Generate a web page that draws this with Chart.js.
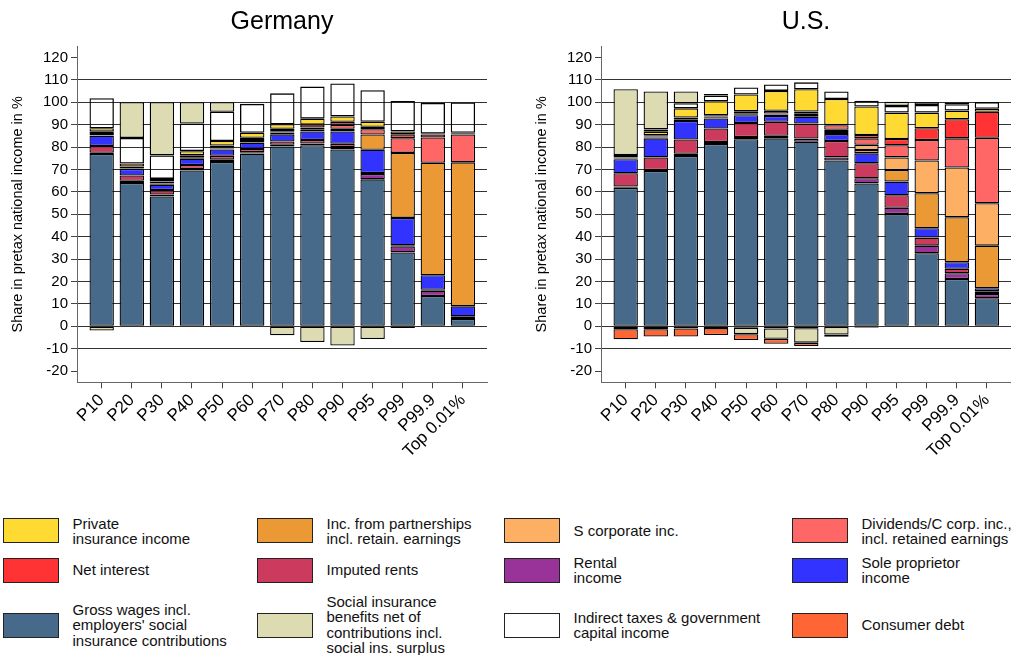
<!DOCTYPE html>
<html>
<head>
<meta charset="utf-8">
<script src="https://cdn.jsdelivr.net/npm/chart.js@4.4.1/dist/chart.umd.min.js"></script>
<style>
  html, body { margin: 0; padding: 0; background: #fff; }
  body { width: 1011px; height: 655px; position: relative; overflow: hidden; font-family: "Liberation Sans", Arial, sans-serif; }
  canvas { position: absolute; top: 0; }
  #deChart { left: 0; }
  #usChart { left: 524px; }
  .key { position: absolute; width: 56px; height: 25px; border: 1px solid #222; box-sizing: border-box; }
  .label { position: absolute; font-size: 15px; line-height: 15.3px; color: #111; white-space: pre; transform: translateY(-50%); }
</style>
</head>
<body>
<canvas id="deChart" width="505" height="500"></canvas>
<canvas id="usChart" width="487" height="500"></canvas>
<div id="legend"></div>
<script>
const FONT = '"Liberation Sans", Arial, sans-serif';

const categories = ['P10', 'P20', 'P30', 'P40', 'P50', 'P60', 'P70', 'P80', 'P90', 'P95', 'P99', 'P99.9', 'Top 0.01%'];
const yTicks = [-20, -10, 0, 10, 20, 30, 40, 50, 60, 70, 80, 90, 100, 110, 120];

// stacking order (bottom to top), negatives stack in the same order below zero
const seriesNames = [
  'Gross wages incl.\nemployers\' social\ninsurance contributions',
  'Rental\nincome',
  'Imputed rents',
  'Sole proprietor\nincome',
  'Inc. from partnerships\nincl. retain. earnings',
  'S corporate inc.',
  'Dividends/C corp. inc.,\nincl. retained earnings',
  'Net interest',
  'Private\ninsurance income',
  'Indirect taxes & government\ncapital income',
  'Social insurance\nbenefits net of\ncontributions incl.\nsocial ins. surplus',
  'Consumer debt'
];
const seriesColors = ['#476a8a', '#993399', '#cc3a5e', '#3333ff', '#ea9935', '#fdb064',
  '#ff6666', '#ff3333', '#ffda33', 'rgba(255,255,255,0)', '#dddbb1', '#ff6633'];
const legendOrder = [8, 4, 5, 6, 7, 2, 1, 3, 0, 10, 9, 11];

// Germany
const deWages        = [76.9, 64.0, 58.0, 69.6, 73.4, 77.1, 80.3, 80.8, 78.9, 65.6, 33.0, 13.5, 3.3];
const deRental       = [0.6, 1.0, 0.8, 0.6, 1.0, 0.6, 0.7, 0.8, 1.1, 2.4, 2.7, 2.4, 0.8];
const deImputed      = [3.0, 2.3, 2.0, 1.8, 1.7, 1.5, 1.5, 1.6, 1.5, 0.4, 0.5, 0.4, 0.4];
const deSoleProp     = [4.6, 2.9, 2.4, 2.8, 2.8, 2.8, 3.2, 3.8, 5.5, 10.4, 12.2, 6.5, 4.4];
const dePartnerships = [0.2, 0.2, 0.3, 0.4, 0.5, 0.7, 0.8, 0.8, 1.2, 6.8, 29.0, 50.2, 64.3];
const deSCorp        = [0, 0, 0, 0, 0, 0, 0, 0, 0, 0, 0, 0, 0];
const deDividends    = [0.6, 0.3, 0.3, 0.4, 0.3, 0.5, 0.6, 0.9, 1.8, 2.4, 6.6, 11.3, 12.4];
const deNetInterest  = [1.0, 0.6, 0.8, 0.8, 1.0, 1.0, 1.1, 1.4, 1.3, 1.1, 1.7, 1.3, 0.4];
const dePrivateIns   = [1.5, 1.4, 1.2, 1.8, 2.0, 2.2, 2.0, 2.6, 2.4, 2.2, 1.3, 0.4, 0.4];
const deIndirectTax  = [13.4, 11.4, 10.5, 12.3, 13.1, 12.9, 13.8, 14.3, 14.7, 14.1, 13.6, 13.7, 13.5];
const deSocialIns    = [-1.9, 15.9, 23.7, 9.5, 4.2, 0, -4.0, -7.0, -8.6, -5.7, -0.8, 0, 0];
const deConsumerDebt = [0, 0, 0, 0, 0, 0, 0, 0, 0, 0, 0, 0, 0];

// U.S.
const usWages        = [61.8, 69.3, 76.0, 81.4, 83.5, 83.9, 82.4, 74.0, 63.8, 50.1, 32.6, 21.1, 12.5];
const usRental       = [0.6, 0.5, 1.0, 0.9, 1.0, 1.2, 1.4, 1.4, 2.3, 2.8, 3.4, 2.6, 1.9];
const usImputed      = [5.9, 5.6, 6.4, 6.0, 6.3, 6.2, 6.7, 7.3, 6.7, 5.6, 3.6, 2.0, 1.2];
const usSoleProp     = [6.3, 8.5, 8.3, 4.5, 3.4, 2.6, 3.1, 3.1, 4.4, 6.1, 4.2, 2.9, 1.4];
const usPartnerships = [0.3, 0.4, 0.5, 0.5, 0.5, 0.6, 0.7, 0.9, 1.5, 5.2, 15.6, 20.1, 19.0];
const usSCorp        = [0.2, 0.4, 0.4, 0.4, 0.4, 0.5, 0.6, 1.0, 2.3, 5.6, 14.6, 22.2, 18.9];
const usDividends    = [0.3, 0.6, 0.6, 0.5, 0.9, 1.2, 1.0, 2.1, 2.9, 5.4, 9.2, 13.0, 29.3];
const usNetInterest  = [-1.3, -1.3, -1.0, -0.8, -0.6, -1.0, -0.9, -0.3, 1.5, 2.8, 5.2, 8.5, 11.6];
const usPrivateIns   = [1.1, 1.6, 4.1, 6.3, 7.5, 8.9, 9.9, 11.7, 12.7, 11.8, 7.0, 3.9, 1.3];
const usIndirectTax  = [0, 1.0, 2.3, 2.5, 3.1, 2.9, 3.1, 3.3, 2.6, 3.0, 3.4, 2.8, 3.0];
const usSocialIns    = [29.3, 16.9, 5.2, 0.7, -2.9, -4.6, -6.4, -3.4, -0.5, 1.9, 1.2, 0.8, 0];
const usConsumerDebt = [-4.5, -3.3, -3.6, -3.1, -2.6, -2.2, -1.5, -1.0, -0.3, 0, 0, 0, 0];

const deSeries = [deWages, deRental, deImputed, deSoleProp, dePartnerships, deSCorp, deDividends,
  deNetInterest, dePrivateIns, deIndirectTax, deSocialIns, deConsumerDebt];
const usSeries = [usWages, usRental, usImputed, usSoleProp, usPartnerships, usSCorp, usDividends,
  usNetInterest, usPrivateIns, usIndirectTax, usSocialIns, usConsumerDebt];

function makeChart(id, title, series, padRight) {
    return new Chart(document.getElementById(id), {
        type: 'bar',
        data: {
            labels: categories.map((c, i) => i),
            datasets: series.map((vals, k) => ({
                label: seriesNames[k],
                data: vals.map(v => v === 0 ? null : v),
                backgroundColor: seriesColors[k],
                borderColor: '#000',
                borderWidth: 1.3,
                borderSkipped: false,
                categoryPercentage: 1,
                barPercentage: 0.81
            }))
        },
        options: {
            responsive: false,
            animation: false,
            layout: { padding: { left: 0, right: padRight, top: 0, bottom: 0 } },
            plugins: {
                legend: { display: false },
                tooltip: { enabled: false },
                title: {
                    display: true,
                    text: title,
                    fullSize: false,
                    color: '#000',
                    font: { size: 25, family: FONT, weight: 'normal', lineHeight: 1.2 },
                    padding: { top: 7, bottom: 9.3 }
                }
            },
            scales: {
                x: {
                    type: 'linear',
                    stacked: true,
                    offset: false,
                    min: -0.82,
                    max: 12.8,
                    afterBuildTicks: s => { s.ticks = categories.map((c, i) => ({ value: i })); },
                    afterFit: s => { s.height = 117.7; s.paddingLeft = 0; s.paddingRight = 0; },
                    ticks: {
                        autoSkip: false,
                        minRotation: 45,
                        maxRotation: 45,
                        color: '#000',
                        padding: 2,
                        font: { size: 17, family: FONT },
                        callback: v => categories[v]
                    },
                    grid: { offset: false, drawOnChartArea: false, drawTicks: true, tickLength: 6, tickColor: '#444' },
                    border: { display: true, color: '#666', width: 1 }
                },
                y: {
                    stacked: true,
                    min: -25,
                    max: 125,
                    afterBuildTicks: s => { s.ticks = yTicks.map(v => ({ value: v })); },
                    afterFit: s => { s.width = 77; s.paddingTop = 0; s.paddingBottom = 0; },
                    ticks: { color: '#000', padding: 3, font: { size: 15, family: FONT } },
                    grid: {
                        color: ctx => (ctx.tick && (ctx.tick.value === 120 || ctx.tick.value === -20)) ? 'rgba(0,0,0,0)' : '#333',
                        tickColor: '#444',
                        tickLength: 6,
                        lineWidth: 1
                    },
                    border: { display: true, color: '#666', width: 1 },
                    title: {
                        display: true,
                        text: 'Share in pretax national income in %',
                        color: '#000',
                        font: { size: 14.5, family: FONT },
                        padding: { top: 9, bottom: 0 }
                    }
                }
            }
        }
    });
}

makeChart('deChart', 'Germany', deSeries, 18);
makeChart('usChart', 'U.S.', usSeries, 0);

// legend, 4 columns x 3 rows
const legendCols = [3, 257, 504, 792];
const legendRows = [530.5, 570.2, 625];
const legendEl = document.getElementById('legend');
legendOrder.forEach((k, n) => {
    const col = n % 4, row = Math.floor(n / 4);
    const box = document.createElement('div');
    box.className = 'key';
    box.style.left = legendCols[col] + 'px';
    box.style.top = (legendRows[row] - 12.5) + 'px';
    box.style.background = seriesColors[k];
    legendEl.appendChild(box);
    const txt = document.createElement('div');
    txt.className = 'label';
    txt.style.left = (legendCols[col] + 69.5) + 'px';
    txt.style.top = legendRows[row] + 'px';
    txt.textContent = seriesNames[k];
    legendEl.appendChild(txt);
});
</script>
</body>
</html>
